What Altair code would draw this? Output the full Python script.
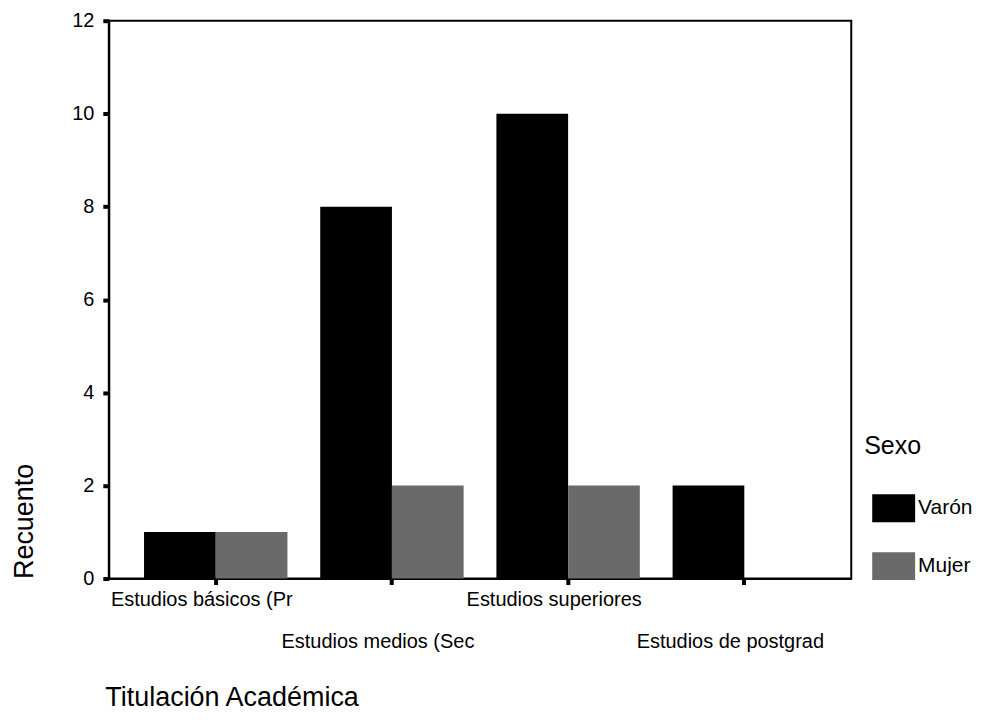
import altair as alt
import pandas as pd

categorias = ["Estudios básicos (Pr", "Estudios medios (Sec", "Estudios superiores", "Estudios de postgrad"]
sexos = ["Varón", "Mujer"]
varon = [1, 8, 10, 2]
mujer = [1, 2, 2, 0]

rows = []
for c, v, m in zip(categorias, varon, mujer):
    rows.append({"Titulación": c, "Sexo": "Varón", "Recuento": v})
    rows.append({"Titulación": c, "Sexo": "Mujer", "Recuento": m})
df = pd.DataFrame(rows)

FONT = "Liberation Sans"

label_expr = ("(datum.label == 'Estudios medios (Sec' || datum.label == 'Estudios de postgrad') "
              "? ['', datum.label] : datum.label")

chart = alt.Chart(df).mark_bar(stroke=None).encode(
    x=alt.X("Titulación:N", sort=categorias,
            scale=alt.Scale(paddingInner=0.186, paddingOuter=0.2),
            axis=alt.Axis(title="Titulación Académica", labelAngle=0, labelExpr=label_expr,
                          labelFontSize=20, labelLineHeight=42, labelPadding=5,
                          labelOffset=-14, labelBaseline="top", labelLimit=0,
                          labelColor="black", labelFont=FONT,
                          tickSize=6, tickWidth=4, tickColor="black",
                          domainColor="black", domainWidth=2,
                          titleFontSize=27, titleFont=FONT, titleFontWeight="normal",
                          titleColor="black", titleAlign="left", titleX=-4, titleY=119,
                          titleBaseline="middle")),
    xOffset=alt.XOffset("Sexo:N", sort=sexos, scale=alt.Scale(paddingInner=0, paddingOuter=0)),
    y=alt.Y("Recuento:Q", scale=alt.Scale(domain=[0, 12]),
            axis=alt.Axis(title="Recuento", values=[0, 2, 4, 6, 8, 10, 12], grid=False,
                          labelFontSize=20, labelColor="black", labelFont=FONT, labelPadding=9,
                          tickSize=6, tickWidth=4, tickColor="black",
                          domainColor="black", domainWidth=2,
                          titleFontSize=27, titleFont=FONT, titleFontWeight="normal",
                          titleColor="black", titleAngle=270, titleAlign="left",
                          titleBaseline="middle", titleX=-84, titleY=559)),
    color=alt.Color("Sexo:N", sort=sexos,
                    scale=alt.Scale(domain=sexos, range=["#000000", "#6a6a6a"]),
                    legend=alt.Legend(title="Sexo", orient="none", legendX=757, legendY=414,
                                      titleFontSize=25, titleFont=FONT, titleFontWeight="normal",
                                      titleColor="black", titlePadding=28,
                                      labelFontSize=21, labelFont=FONT, labelColor="black",
                                      symbolType="M-1,-0.65L1,-0.65L1,0.65L-1,0.65Z",
                                      symbolSize=1849, symbolStrokeWidth=0, symbolOpacity=1,
                                      symbolOffset=8, rowPadding=22, labelOffset=3)),
).properties(
    width=744, height=559,
    autosize=alt.AutoSizeParams(type="none"),
    padding={"left": 101, "top": 12, "right": 125, "bottom": 138},
).configure(
    font=FONT
).configure_view(
    stroke="black", strokeWidth=2
)

chart.save("out.html", embed_options={"renderer": "svg", "actions": False})
